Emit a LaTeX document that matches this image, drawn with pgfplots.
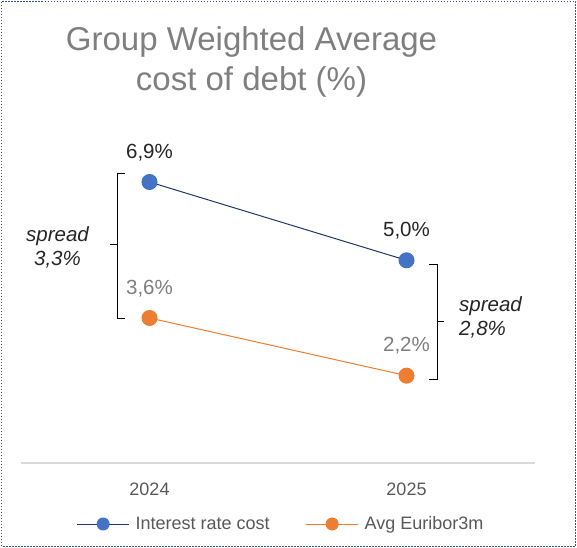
\documentclass[border=0pt]{standalone}
\usepackage{pgfplots}
\pgfplotsset{compat=1.18}
\usepackage{fontspec}
\setmainfont{Liberation Sans}
\definecolor{blueM}{HTML}{4472C4}
\definecolor{navyL}{HTML}{203864}
\definecolor{orangeM}{HTML}{ED7D31}
\definecolor{axisG}{HTML}{D9D9D9}
\definecolor{titleG}{HTML}{7F7F7F}
\definecolor{txtG}{HTML}{595959}
\definecolor{darkT}{HTML}{262626}
\definecolor{borderB}{HTML}{2F5597}
\begin{document}
\begin{tikzpicture}[x=1bp,y=1bp]
\useasboundingbox (0,0) rectangle (577,548);
\draw[borderB, line width=1bp, dash pattern=on 1.5bp off 1.5bp] (1.5,1.5) rectangle (575.5,546.5);
% title
\node[text=titleG, font=\fontsize{33bp}{40bp}\selectfont, align=center] at (251.5,486) {Group Weighted Average\\cost of debt (\%)};
\begin{axis}[
  at={(21bp,85bp)}, anchor=south west,
  scale only axis, width=514bp, height=329.6bp,
  xmin=2023.5, xmax=2025.5, ymin=0.08, ymax=8.08,
  axis x line=bottom, axis y line=none,
  axis line style={axisG, line width=1.5bp, -},
  xtick={2024,2025}, xticklabels={2024,2025},
  major tick length=0pt,
  xticklabel style={font=\fontsize{18bp}{20bp}\selectfont, text=txtG, anchor=center, yshift=-26bp},
  ytick=\empty,
  clip=false,
  nodes near coords,
  point meta=explicit symbolic,
  every node near coord/.append style={anchor=center, yshift=29.5bp, font=\fontsize{20.5bp}{24bp}\selectfont},
  legend style={at={(0.5,0)}, yshift=-61bp, xshift=3bp, anchor=center, draw=none, legend columns=2,
    font=\fontsize{18bp}{20bp}\selectfont, text=txtG,
    /tikz/every even column/.append style={column sep=34bp},
    /tikz/every odd column/.append style={column sep=4bp}},
]
\addplot[navyL, line width=1bp, mark=*, mark size=7.5bp, mark options={fill=blueM, draw=blueM},
  every node near coord/.append style={text=darkT},
  legend image code/.code={
    \draw[navyL, line width=1bp] (0bp,0bp) -- (52bp,0bp);
    \fill[blueM] (26bp,0bp) circle (6bp);
  }]
  coordinates {(2024,6.9) [6,9\%] (2025,5.0) [5,0\%]};
\addlegendentry{Interest rate cost}
\addplot[orangeM, line width=1bp, mark=*, mark size=7.5bp, mark options={fill=orangeM, draw=orangeM},
  every node near coord/.append style={text=titleG},
  legend image code/.code={
    \draw[orangeM, line width=1bp] (0bp,0bp) -- (52bp,0bp);
    \fill[orangeM] (26bp,0bp) circle (6bp);
  }]
  coordinates {(2024,3.6) [3,6\%] (2025,2.2) [2,2\%]};
\addlegendentry{Avg Euribor3m}
\end{axis}
% brackets (picture coords: y = 548 - py)
\draw[black, line width=1bp] (125,374) -- (117,374) -- (117,229) -- (125,229);
\draw[black, line width=1bp] (117,303) -- (110,303);
\draw[black, line width=1bp] (429,283) -- (437,283) -- (437,168) -- (429,168);
\draw[black, line width=1bp] (437,226) -- (444,226);
\node[text=darkT, font=\itshape\fontsize{20.5bp}{24bp}\selectfont, align=center] at (57.5,301) {spread\\3,3\%};
\node[text=darkT, font=\itshape\fontsize{20.5bp}{24bp}\selectfont, align=left, anchor=west, inner sep=0pt] at (459,231) {spread\\2,8\%};
\end{tikzpicture}
\end{document}
